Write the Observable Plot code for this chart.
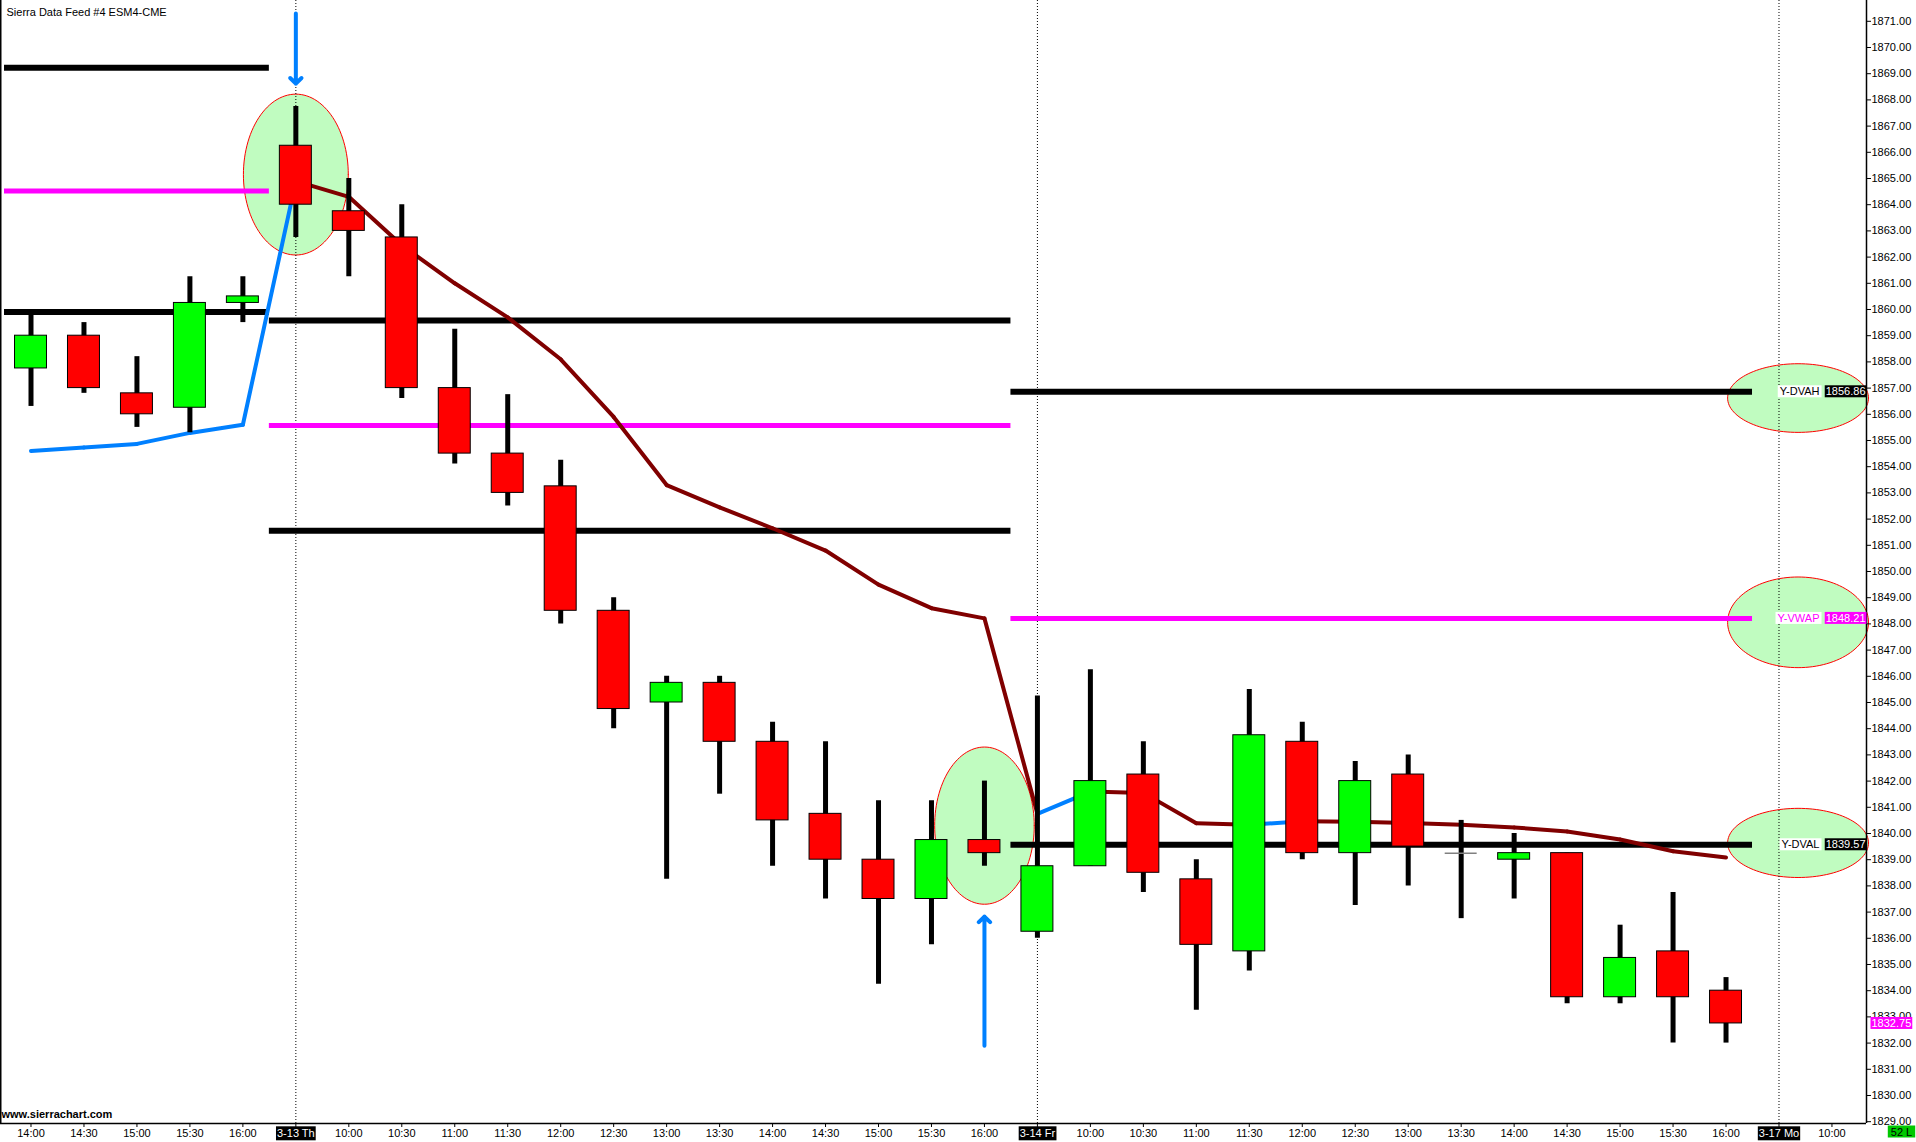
<!DOCTYPE html>
<html>
<head>
<meta charset="utf-8">
<script src="https://cdn.jsdelivr.net/npm/d3@7"></script>
<script src="https://cdn.jsdelivr.net/npm/@observablehq/plot@0.6"></script>
<style>
  html, body { margin: 0; padding: 0; background: #fff; }
  #chart svg { display: block; }
</style>
</head>
<body>
<div id="chart"></div>
<script>
// ---------------- data ----------------
const title = "Sierra Data Feed #4 ESM4-CME";
const footer = "www.sierrachart.com";
const timeLabels = ["14:00","14:30","15:00","15:30","16:00","3-13 Th","10:00","10:30","11:00","11:30","12:00","12:30","13:00","13:30","14:00","14:30","15:00","15:30","16:00","3-14 Fr","10:00","10:30","11:00","11:30","12:00","12:30","13:00","13:30","14:00","14:30","15:00","15:30","16:00","3-17 Mo","10:00"];

const opens  = [1857.75,1859.00,1856.80,1856.25,1860.25,1866.25,1863.75,1862.75,1857.00,1854.50,1853.25,1848.50,1845.00,1845.75,1843.50,1840.75,1839.00,1837.50,1839.75,1836.25,1838.75,1842.25,1838.25,1835.50,1843.50,1839.25,1842.25,1839.25,1839.00,1839.25,1833.75,1835.50,1834.00];
const highs  = [1860.00,1859.50,1858.20,1861.25,1861.25,1867.75,1865.00,1864.00,1859.25,1856.75,1854.25,1849.00,1846.00,1846.00,1844.25,1843.50,1841.25,1841.25,1842.00,1845.25,1846.25,1843.50,1839.00,1845.50,1844.25,1842.75,1843.00,1840.50,1840.00,1839.25,1836.50,1837.75,1834.50];
const lows   = [1856.30,1856.80,1855.50,1855.30,1859.50,1862.75,1861.25,1856.60,1854.10,1852.50,1848.00,1844.00,1838.25,1841.50,1838.75,1837.50,1834.25,1835.75,1838.75,1836.00,1838.75,1837.75,1833.25,1834.75,1839.00,1837.25,1838.00,1836.75,1837.50,1833.50,1833.50,1832.00,1832.00];
const closes = [1859.00,1857.00,1856.00,1860.25,1860.50,1864.00,1863.00,1857.00,1854.50,1853.00,1848.50,1844.75,1845.75,1843.50,1840.50,1839.00,1837.50,1839.75,1839.25,1838.75,1842.00,1838.50,1835.75,1843.75,1839.25,1842.00,1839.50,1839.25,1839.25,1833.75,1835.25,1833.75,1832.75];

const vwapValues = [1854.60,1854.73,1854.87,1855.29,1855.60,1864.90,1864.30,1862.45,1861.00,1859.70,1858.10,1855.90,1853.30,1852.45,1851.65,1850.80,1849.50,1848.60,1848.21,1840.75,1841.60,1841.55,1840.39,1840.33,1840.47,1840.45,1840.40,1840.33,1840.23,1840.08,1839.77,1839.32,1839.08];

const sessionFirstBar = [0, 5, 19];
const sessionLastBar  = [4, 18, 32];
const sessionDVAH = [1869.23, 1859.58, 1856.86];
const sessionYVWAP = [1864.52, 1855.57, 1848.21];
const sessionDVAL = [1859.90, 1851.56, 1839.57];
const sessionSeparators = [5, 19, 33];

const levelNames  = ["Y-DVAH", "Y-VWAP", "Y-DVAL"];
const levelValues = [1856.86, 1848.21, 1839.57];
const lastPrice = 1832.75;
const barCountLabel = "52 L";

const ellipseCx = [5, 18, 33.36, 33.36, 33.36];
const ellipseCy = [1865.15, 1840.30, 1856.62, 1848.06, 1839.64];
const ellipseRx = [0.99, 0.94, 1.33, 1.33, 1.33];
const ellipseRy = [3.07, 3.00, 1.31, 1.73, 1.32];

const arrowBar  = [5, 18];
const arrowFrom = [1871.30, 1831.90];
const arrowTo   = [1868.62, 1836.83];

// ---------------- colors ----------------
const UP = "#00ff00", DOWN = "#ff0000", BLUE = "#0080ff", BROWN = "#800000", MAGENTA = "#ff00ff", DOJI = "#808080";

// ---------------- derived tables ----------------
const candles = opens.map((o, i) => ({i, open: o, high: highs[i], low: lows[i], close: closes[i]}));
const bodies = candles.filter(d => d.open !== d.close);
const dojis = candles.filter(d => d.open === d.close);
const segs = vwapValues.slice(1).map((v, k) => ({x1: k, y1: vwapValues[k], x2: k + 1, y2: v, up: v > vwapValues[k]}));
const sessions = sessionFirstBar.map((f, k) => ({first: f, last: sessionLastBar[k], dvah: sessionDVAH[k], vwap: sessionYVWAP[k], dval: sessionDVAL[k]}));
const levels = levelNames.map((n, k) => ({name: n, value: levelValues[k], color: n === "Y-VWAP" ? MAGENTA : "black"}));
const ellipsePts = [];
ellipseCx.forEach((cx, e) => {
  for (let s = 0; s <= 120; s++) {
    const t = (s / 120) * 2 * Math.PI;
    ellipsePts.push({e, x: cx + ellipseRx[e] * Math.cos(t), y: ellipseCy[e] + ellipseRy[e] * Math.sin(t)});
  }
});
const arrows = arrowBar.map((b, k) => ({x: b, from: arrowFrom[k], to: arrowTo[k]}));

const W = 1916, H = 1142;
const xDomain = [-0.5758, 34.652];
const yDomain = [1828.931, 1871.794];

const chart = Plot.plot({
  width: W, height: H,
  marginLeft: 0, marginRight: 50, marginTop: 0, marginBottom: 19,
  style: {fontFamily: "'Liberation Sans', Arial, sans-serif", fontSize: "11px", background: "#fff", color: "black"},
  x: {domain: xDomain, axis: null},
  y: {domain: yDomain, axis: null},
  color: {type: "identity"},
  marks: [
    // annotation ellipses
    Plot.line(ellipsePts, {x: "x", y: "y", z: "e", fill: "#c0fcc0", stroke: "red", strokeWidth: 1, curve: "linear"}),
    // session separators
    Plot.ruleX(sessionSeparators, {stroke: "black", strokeWidth: 1, strokeDasharray: "1,2"}),
    // prior-day levels
    Plot.ruleY(sessions, {y: "dvah", x1: d => d.first - 0.5, x2: d => d.last + 0.5, stroke: "black", strokeWidth: 6}),
    Plot.ruleY(sessions, {y: "dval", x1: d => d.first - 0.5, x2: d => d.last + 0.5, stroke: "black", strokeWidth: 6}),
    Plot.ruleY(sessions, {y: "vwap", x1: d => d.first - 0.5, x2: d => d.last + 0.5, stroke: MAGENTA, strokeWidth: 5}),
    // VWAP colored by slope
    Plot.link(segs, {x1: "x1", y1: "y1", x2: "x2", y2: "y2", stroke: d => d.up ? BLUE : BROWN, strokeWidth: 4, strokeLinecap: "round"}),
    // arrows
    Plot.arrow(arrows, {x1: "x", y1: "from", x2: "x", y2: "to", stroke: BLUE, strokeWidth: 4, headLength: 3, headAngle: 90}),
    // candles
    Plot.ruleX(candles, {x: "i", y1: "low", y2: "high", stroke: "black", strokeWidth: 5}),
    Plot.rect(bodies, {x1: d => d.i - 0.5, x2: d => d.i + 0.5, y1: "open", y2: "close",
      fill: d => d.close > d.open ? UP : DOWN, stroke: "black", strokeWidth: 1,
      insetLeft: 10.5, insetRight: 10.5}),
    Plot.ruleY(dojis, {y: "open", x1: d => d.i - 0.5, x2: d => d.i + 0.5, stroke: DOJI, strokeWidth: 1.5, insetLeft: 10.5, insetRight: 10.5}),
    // axis lines
    Plot.ruleY([yDomain[0]], {stroke: "black", strokeWidth: 1.5}),
    Plot.ruleX([xDomain[1]], {stroke: "black", strokeWidth: 1.5}),
    Plot.ruleX([xDomain[0]], {stroke: "black", strokeWidth: 2}),
    Plot.axisY(d3.range(1829, 1872), {anchor: "right", tickFormat: d => d.toFixed(2), tickSize: 4, tickPadding: 1, fontSize: 11}),
    Plot.axisX(d3.range(0, 35), {anchor: "bottom", tickFormat: i => timeLabels[i], tickSize: 4, tickPadding: 2, fontSize: 11}),
    // right-side level labels
    Plot.text(levels, {frameAnchor: "right", y: "value", text: "name", textAnchor: "end", dx: -47, fill: "color"}),
    Plot.text(levels, {frameAnchor: "right", y: "value", text: d => d.value.toFixed(2), textAnchor: "end", dx: -1, fill: "white"}),
    Plot.text([lastPrice], {frameAnchor: "right", y: d => d, text: d => d.toFixed(2), textAnchor: "start", dx: 5, fill: "white"}),
    Plot.text([barCountLabel], {frameAnchor: "bottom-right", text: d => d, textAnchor: "middle", dx: 35, dy: 12, fill: "black"}),
    // title & footer
    Plot.text([title], {frameAnchor: "top-left", text: d => d, textAnchor: "start", dx: 6, dy: 8, fill: "black"}),
    Plot.text([footer], {frameAnchor: "bottom-left", text: d => d, textAnchor: "start", dx: 1, dy: -6, fontWeight: "bold", fill: "black"})
  ]
});

document.getElementById("chart").appendChild(chart);

// label background boxes (drawn behind the label texts)
const SVGNS = "http://www.w3.org/2000/svg";
function boxFor(t, fill, px, py) {
  const b = t.getBBox();
  const r = document.createElementNS(SVGNS, "rect");
  r.setAttribute("x", b.x - px);
  r.setAttribute("y", b.y - py);
  r.setAttribute("width", b.width + 2 * px);
  r.setAttribute("height", b.height + 2 * py);
  r.setAttribute("fill", fill);
  r.setAttribute("stroke", "none");
  const tr = t.getAttribute("transform");
  if (tr) r.setAttribute("transform", tr);
  t.parentNode.insertBefore(r, t);
}
const boxFill = {};
levels.forEach(d => { boxFill[d.name] = ["white", 2]; boxFill[d.value.toFixed(2)] = [d.color === "black" ? "black" : MAGENTA, 1]; });
boxFill[lastPrice.toFixed(2)] = [MAGENTA, 1];
boxFill[barCountLabel] = ["#00c800", 3];
chart.querySelectorAll("text").forEach(t => {
  const s = t.textContent;
  if (boxFill[s]) {
    boxFor(t, boxFill[s][0], boxFill[s][1], 0);
  } else if (/^\d+-\d+ /.test(s)) {
    boxFor(t, "black", 1, 1);
    t.setAttribute("fill", "white");
  }
});
</script>
</body>
</html>
